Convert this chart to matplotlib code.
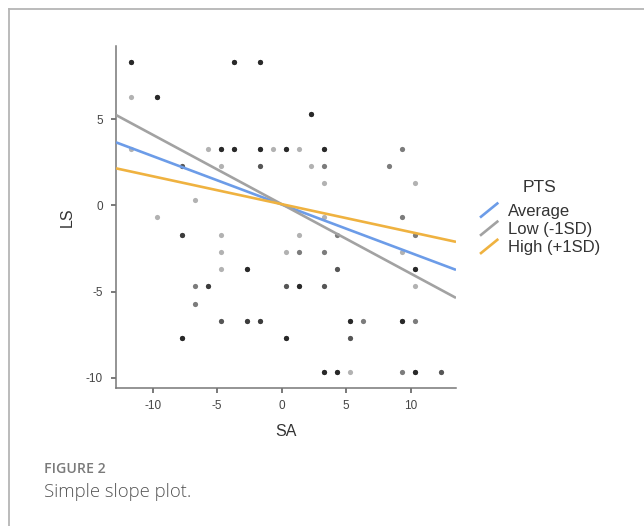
import numpy as np
import matplotlib
matplotlib.use("Agg")
import matplotlib.pyplot as plt
from matplotlib.lines import Line2D
from matplotlib.legend_handler import HandlerBase

# observed points (centred SA / LS) and how many respondents sit on each spot
sa = [-11.7, -3.7, -1.7, -11.7, -9.7, 2.3, -11.7, -5.7, -4.7, -3.7, -1.7, -0.7, 0.3, 1.3, 3.3, 9.3,
      -7.7, -4.7, -1.7, 2.3, 3.3, 8.3, 3.3, 10.3, -6.7, -9.7, 3.3, 9.3,
      -7.7, -4.7, 1.3, 4.3, 10.3, -4.7, 0.3, 1.3, 3.3, 9.3,
      -4.7, -2.7, 4.3, 10.3, -6.7, -5.7, 0.3, 1.3, 3.3, 10.3, -6.7,
      -4.7, -2.7, -1.7, 5.3, 6.3, 9.3, 10.3, -7.7, 0.3, 5.3,
      3.3, 4.3, 5.3, 9.3, 10.3, 12.3]
ls = [8.3, 8.3, 8.3, 6.3, 6.3, 5.3, 3.3, 3.3, 3.3, 3.3, 3.3, 3.3, 3.3, 3.3, 3.3, 3.3,
      2.3, 2.3, 2.3, 2.3, 2.3, 2.3, 1.3, 1.3, 0.3, -0.7, -0.7, -0.7,
      -1.7, -1.7, -1.7, -1.7, -1.7, -2.7, -2.7, -2.7, -2.7, -2.7,
      -3.7, -3.7, -3.7, -3.7, -4.7, -4.7, -4.7, -4.7, -4.7, -4.7, -5.7,
      -6.7, -6.7, -6.7, -6.7, -6.7, -6.7, -6.7, -7.7, -7.7, -7.7,
      -9.7, -9.7, -9.7, -9.7, -9.7, -9.7]
count = [5, 5, 5, 1, 5, 5, 1, 1, 5, 5, 5, 1, 5, 1, 5, 2,
         3, 1, 3, 1, 2, 2, 1, 1, 1, 1, 1, 2,
         4, 1, 1, 2, 2, 1, 1, 2, 2, 1,
         1, 5, 3, 5, 2, 4, 3, 5, 3, 1, 2,
         3, 4, 4, 5, 2, 5, 2, 5, 5, 3,
         5, 5, 1, 2, 5, 3]

# simple slopes of LS on SA at three levels of PTS
groups = ["Average", "Low (-1SD)", "High (+1SD)"]
slopes = [-0.281, -0.403, -0.162]
intercepts = [0.05, 0.07, 0.07]
colors = ["#6c9ce8", "#a2a2a2", "#efb240"]


class SlashHandler(HandlerBase):
    # legend key drawn as a short rising stroke
    def create_artists(self, legend, orig_handle, xdescent, ydescent,
                       width, height, fontsize, trans):
        ln = Line2D([-xdescent, -xdescent + width], [-ydescent, -ydescent + height],
                    color=orig_handle.get_color(), lw=orig_handle.get_linewidth(),
                    solid_capstyle="butt", transform=trans)
        return [ln]


plt.rcParams["font.family"] = ["Liberation Sans", "DejaVu Sans"]
plt.rcParams["axes.unicode_minus"] = False

W, H = 644, 526
fig = plt.figure(figsize=(W / 100, H / 100), dpi=100)
ax = fig.add_axes([116 / W, 1 - 388 / H, (456 - 116) / W, (388 - 46) / H])

x_rep = np.repeat(sa, count)
y_rep = np.repeat(ls, count)
ax.scatter(x_rep, y_rep, s=14, color="black", alpha=0.3, linewidths=0, zorder=2)

ax.set_xlim(-12.84, 13.5)
ax.set_ylim(-10.6, 9.25)

xs = np.array(ax.get_xlim())
handles = []
for g, b, a, c in zip(groups, slopes, intercepts, colors):
    h, = ax.plot(xs, a + b * xs, color=c, lw=1.9, label=g, zorder=3, solid_capstyle="butt")
    handles.append(h)

ax.set_xticks([-10, -5, 0, 5, 10])
ax.set_yticks([-10, -5, 0, 5])
for s in ["top", "right"]:
    ax.spines[s].set_visible(False)
for s in ["left", "bottom"]:
    ax.spines[s].set_color("#777777")
    ax.spines[s].set_linewidth(1.1)
ax.tick_params(length=3.5, width=1.1, color="#555555", labelsize=8.5,
               labelcolor="#444444", pad=5)
ax.tick_params(axis="y", pad=6)
ax.set_xlabel("SA", fontsize=11.5, color="#333333", labelpad=9)
ax.set_ylabel("LS", fontsize=11.5, color="#333333", labelpad=8)

leg = fig.legend(handles=handles, labels=groups, title="PTS",
                 handler_map={Line2D: SlashHandler()},
                 loc="upper left", bbox_to_anchor=(480 / W, 1 - 180 / H),
                 frameon=False, fontsize=12, title_fontsize=12.5,
                 handlelength=1.1, handleheight=1.0, handletextpad=0.55,
                 labelspacing=0.12, borderpad=0, borderaxespad=0)
leg._legend_box.sep = 5.5
for t in leg.get_texts():
    t.set_color("#333333")
leg.get_title().set_color("#333333")

# light frame round the figure panel
fig.add_artist(Line2D([9 / W, 1], [1 - 9 / H, 1 - 9 / H], color="#b5b5b5", lw=1.3,
                      transform=fig.transFigure))
fig.add_artist(Line2D([9 / W, 9 / W], [0, 1 - 9 / H], color="#b5b5b5", lw=1.3,
                      transform=fig.transFigure))

fig.text(44 / W, 1 - 472.7 / H, "FIGURE 2", fontsize=10.2, color="#7a7a7a",
         family=["Open Sans", "DejaVu Sans"], fontweight="semibold", va="baseline")
fig.text(44 / W, 1 - 497.3 / H, "Simple slope plot.", fontsize=13.3, color="#555555",
         family=["Open Sans", "DejaVu Sans"], fontweight="light", va="baseline")

fig.savefig("out.png", dpi=100)
